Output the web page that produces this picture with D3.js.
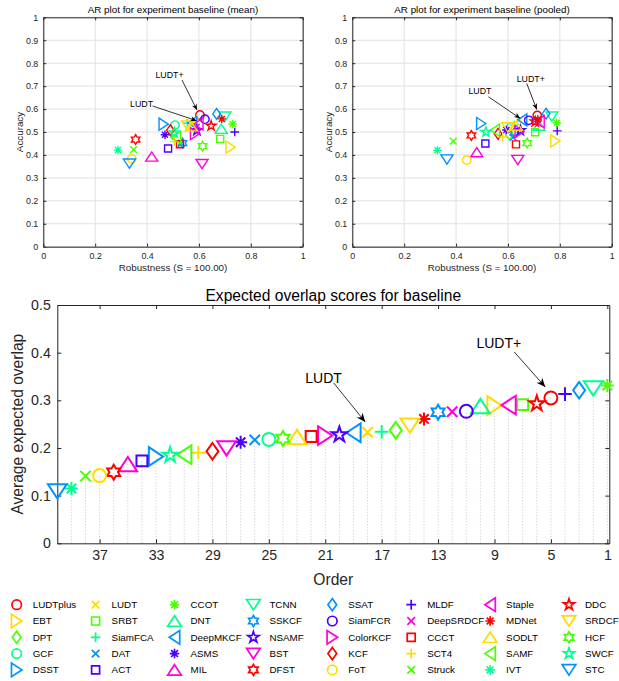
<!DOCTYPE html>
<html>
<head>
<meta charset="utf-8">
<script src="https://cdn.jsdelivr.net/npm/d3@7"></script>
<style>
body { margin: 0; background: #fff; }
svg text { font-family: "Liberation Sans", Arial, Helvetica, sans-serif; fill: #262626; }
</style>
</head>
<body>
<div id="chart"></div>
<script>

// ---- data ----
var trackers = ['LUDTplus','EBT','DPT','GCF','DSST','LUDT','SRBT','SiamFCA','DAT','ACT',
                'CCOT','DNT','DeepMKCF','ASMS','MIL','TCNN','SSKCF','NSAMF','BST','DFST',
                'SSAT','SiamFCR','ColorKCF','KCF','FoT','MLDF','DeepSRDCF','CCCT','SCT4','Struck',
                'Staple','MDNet','SODLT','SAMF','IVT','DDC','SRDCF','HCF','SWCF','STC'];

var eaoScores = [0.305,0.289,0.237,0.218,0.182,0.233,0.291,0.234,0.217,0.173,
                 0.331,0.288,0.232,0.212,0.166,0.325,0.275,0.228,0.199,0.149,
                 0.321,0.277,0.226,0.193,0.142,0.313,0.276,0.224,0.190,0.141,
                 0.290,0.261,0.223,0.186,0.115,0.293,0.247,0.220,0.185,0.109];

var meanRobustness = [0.604,0.722,0.500,0.508,0.464,0.585,0.682,0.555,0.532,0.481,
                      0.730,0.686,0.574,0.469,0.418,0.700,0.537,0.592,0.612,0.356,
                      0.668,0.623,0.585,0.490,0.341,0.738,0.590,0.527,0.505,0.348,
                      0.598,0.688,0.570,0.512,0.288,0.647,0.556,0.614,0.505,0.332];
var meanAccuracy = [0.574,0.434,0.490,0.530,0.534,0.545,0.470,0.538,0.450,0.428,
                    0.535,0.514,0.540,0.488,0.393,0.567,0.452,0.507,0.360,0.467,
                    0.579,0.556,0.493,0.508,0.383,0.500,0.520,0.447,0.458,0.423,
                    0.535,0.557,0.525,0.475,0.421,0.527,0.528,0.438,0.498,0.362];

var pooledRobustness = [0.713,0.783,0.605,0.612,0.497,0.645,0.705,0.625,0.620,0.513,
                        0.788,0.720,0.655,0.594,0.480,0.769,0.625,0.648,0.638,0.459,
                        0.747,0.680,0.645,0.562,0.441,0.790,0.718,0.631,0.580,0.389,
                        0.722,0.715,0.632,0.550,0.328,0.705,0.600,0.674,0.515,0.365];
var pooledAccuracy = [0.572,0.461,0.490,0.522,0.537,0.553,0.499,0.530,0.476,0.450,
                      0.540,0.528,0.553,0.509,0.412,0.567,0.498,0.507,0.378,0.485,
                      0.580,0.551,0.502,0.492,0.378,0.505,0.537,0.446,0.478,0.460,
                      0.545,0.556,0.528,0.508,0.420,0.545,0.520,0.452,0.500,0.380];

var arTicksX = [0, 0.2, 0.4, 0.6, 0.8, 1];
var arTicksY = [0, 0.1, 0.2, 0.3, 0.4, 0.5, 0.6, 0.7, 0.8, 0.9, 1];
var eaoTicksY = [0, 0.1, 0.2, 0.3, 0.4, 0.5];
var orderTicks = [37, 33, 29, 25, 21, 17, 13, 9, 5, 1];

// ---- styles ----
var hues = ['#ff0000','#ffdb00','#49ff00','#00ff92','#0092ff','#4900ff','#ff00db'];
var trackerMarkers = ['o','>','d','o','>','x','s','+','x','s',
                      '*','^','<','*','^','v','h','p','v','h',
                      'd','o','>','d','o','+','x','s','+','x',
                      '<','*','^','<','*','p','v','h','p','v'];
var trackerColors = trackers.map(function(t, i) { return hues[(Math.floor(i / 5) + i % 5) % 7]; });

var W = 619, H = 681;
var svg = d3.select('#chart').append('svg').attr('width', W).attr('height', H);

function fmt1(d) { return String(+d.toFixed(1)); }

function markerPath(type, m) {
	var p = d3.path(), a, w, h, i, ang, rad, n, outer, inner;
	switch (type) {
		case 'o': p.moveTo(m / 2, 0); p.arc(0, 0, m / 2, 0, 2 * Math.PI); break;
		case 's': a = m * 0.42; p.rect(-a, -a, 2 * a, 2 * a); break;
		case 'd': w = m * 0.46; h = m * 0.64;
			p.moveTo(0, -h); p.lineTo(w, 0); p.lineTo(0, h); p.lineTo(-w, 0); p.closePath(); break;
		case '^': w = m * 0.72; h = m * 0.55;
			p.moveTo(0, -h); p.lineTo(w, h); p.lineTo(-w, h); p.closePath(); break;
		case 'v': w = m * 0.72; h = m * 0.55;
			p.moveTo(0, h); p.lineTo(w, -h); p.lineTo(-w, -h); p.closePath(); break;
		case '>': w = m * 0.72; h = m * 0.55;
			p.moveTo(h, 0); p.lineTo(-h, -w); p.lineTo(-h, w); p.closePath(); break;
		case '<': w = m * 0.72; h = m * 0.55;
			p.moveTo(-h, 0); p.lineTo(h, -w); p.lineTo(h, w); p.closePath(); break;
		case 'x': a = m * 0.4;
			p.moveTo(-a, -a); p.lineTo(a, a); p.moveTo(a, -a); p.lineTo(-a, a); break;
		case '+': a = m * 0.52;
			p.moveTo(-a, 0); p.lineTo(a, 0); p.moveTo(0, -a); p.lineTo(0, a); break;
		case '*': a = m * 0.5; w = a * 0.72;
			p.moveTo(-a, 0); p.lineTo(a, 0); p.moveTo(0, -a); p.lineTo(0, a);
			p.moveTo(-w, -w); p.lineTo(w, w); p.moveTo(w, -w); p.lineTo(-w, w); break;
		case 'p': case 'h':
			n = type == 'p' ? 5 : 6;
			outer = type == 'p' ? m * 0.62 : m * 0.58;
			inner = type == 'p' ? outer * 0.382 : outer / Math.sqrt(3);
			for (i = 0; i < 2 * n; i++) {
				ang = -Math.PI / 2 + i * Math.PI / n;
				rad = i % 2 == 0 ? outer : inner;
				if (i == 0) { p.moveTo(rad * Math.cos(ang), rad * Math.sin(ang)); }
				else { p.lineTo(rad * Math.cos(ang), rad * Math.sin(ang)); }
			}
			p.closePath(); break;
	}
	return p.toString();
}

function appendMarker(g, type, x, y, m, color, sw) {
	g.append('path')
		.attr('d', markerPath(type, m))
		.attr('transform', 'translate(' + x + ',' + y + ')')
		.style('fill', 'none')
		.style('stroke', color)
		.style('stroke-width', sw)
		.style('stroke-linejoin', 'miter');
}

function appendText(g, x, y, size, anchor, txt, rotate) {
	var t = g.append('text')
		.attr('x', x)
		.attr('y', y)
		.attr('dy', '0.35em')
		.style('font-size', size + 'px')
		.attr('text-anchor', anchor)
		.text(txt);
	if (rotate) { t.attr('transform', 'rotate(-90,' + x + ',' + y + ')'); }
	return t;
}

function appendArrow(g, x1, y1, x2, y2, headLen, headW) {
	g.append('line')
		.attr('x1', x1).attr('y1', y1)
		.attr('x2', x2).attr('y2', y2)
		.style('stroke', 'black')
		.style('stroke-width', 0.8);
	var ang = Math.atan2(y2 - y1, x2 - x1) * 180 / Math.PI;
	g.append('path')
		.attr('d', 'M0,0L' + (-headLen) + ',' + (-headW) + 'L' + (-headLen * 0.7) + ',0L' + (-headLen) + ',' + headW + 'Z')
		.attr('transform', 'translate(' + x2 + ',' + y2 + ') rotate(' + ang + ')')
		.style('fill', 'black');
}

function styleAxis(sel, size) {
	sel.selectAll('path.domain').style('stroke', '#262626');
	sel.selectAll('.tick line').style('stroke', '#262626');
	sel.selectAll('.tick text').style('font-size', size + 'px').style('fill', '#262626')
		.style('font-family', '"Liberation Sans", Arial, sans-serif');
}

// ---- AR plots ----
function drawAR(x0, x1, title, rob, acc, notes) {
	var y0 = 17.3, y1 = 246.7;
	var x = d3.scaleLinear().domain([0, 1]).range([x0, x1]);
	var y = d3.scaleLinear().domain([0, 1]).range([y1, y0]);
	var g = svg.append('g');

	g.selectAll('.gx').data(arTicksX).enter().append('line')
		.attr('x1', function(d) { return x(d); }).attr('x2', function(d) { return x(d); })
		.attr('y1', y0).attr('y2', y1)
		.style('stroke', '#e0e0e0').style('stroke-width', 1);
	g.selectAll('.gy').data(arTicksY).enter().append('line')
		.attr('y1', function(d) { return y(d); }).attr('y2', function(d) { return y(d); })
		.attr('x1', x0).attr('x2', x1)
		.style('stroke', '#e0e0e0').style('stroke-width', 1);

	var fs = 8.9;
	styleAxis(g.append('g').attr('transform', 'translate(0,' + y1 + ')')
		.call(d3.axisBottom(x).tickValues(arTicksX).tickFormat(fmt1).tickSizeInner(-3).tickSizeOuter(0).tickPadding(6)), fs);
	styleAxis(g.append('g').attr('transform', 'translate(' + x0 + ',0)')
		.call(d3.axisLeft(y).tickValues(arTicksY).tickFormat(fmt1).tickSizeInner(-3).tickSizeOuter(0).tickPadding(5)), fs);
	styleAxis(g.append('g').attr('transform', 'translate(0,' + y0 + ')')
		.call(d3.axisTop(x).tickValues(arTicksX).tickFormat('').tickSizeInner(-3).tickSizeOuter(0)), fs);
	styleAxis(g.append('g').attr('transform', 'translate(' + x1 + ',0)')
		.call(d3.axisRight(y).tickValues(arTicksY).tickFormat('').tickSizeInner(-3).tickSizeOuter(0)), fs);

	appendText(g, (x0 + x1) / 2, 10, 9.8, 'middle', title).style('fill', '#000');
	appendText(g, (x0 + x1) / 2, 267.7, 9.8, 'middle', 'Robustness (S = 100.00)');
	appendText(g, x0 - 23.5, (y0 + y1) / 2, 9.8, 'middle', 'Accuracy', true);

	trackers.forEach(function(t, i) {
		appendMarker(g, trackerMarkers[i], x(rob[i]), y(acc[i]), 8.4, trackerColors[i], 1.4);
	});

	notes.forEach(function(n) {
		var i = trackers.indexOf(n.tracker);
		var mx = x(rob[i]), my = y(acc[i]);
		var tx = mx + n.tip[0], ty = my + n.tip[1];
		appendArrow(g, tx + n.tail[0], ty + n.tail[1], tx, ty, 6, 2.6);
		appendText(g, tx + n.tail[0] + n.text[0], ty + n.tail[1] + n.text[1], 8.8, n.anchor, n.label).style('fill', '#000');
	});
}

drawAR(43.3, 302.7, 'AR plot for experiment baseline (mean)', meanRobustness, meanAccuracy, [
	{ tracker: 'LUDTplus', label: 'LUDT+', tip: [-3, -5], tail: [-15, -30], text: [-12.5, -5], anchor: 'middle' },
	{ tracker: 'LUDT', label: 'LUDT', tip: [1.5, -1], tail: [-44, -14.7], text: [0.5, -2], anchor: 'end' }
]);
drawAR(352.3, 611.7, 'AR plot for experiment baseline (pooled)', pooledRobustness, pooledAccuracy, [
	{ tracker: 'LUDTplus', label: 'LUDT+', tip: [-0.5, -6], tail: [-10, -26], text: [4, -5], anchor: 'middle' },
	{ tracker: 'LUDT', label: 'LUDT', tip: [0.5, -1.5], tail: [-31.7, -21.6], text: [-8.5, -6], anchor: 'middle' }
]);

// ---- Expected overlap plot ----
(function() {
	var x0 = 57.3, x1 = 609.3, y0 = 305, y1 = 543.3;
	var x = d3.scaleLinear().domain([40, 0.86]).range([x0, x1]);
	var y = d3.scaleLinear().domain([0, 0.5]).range([y1, y0]);
	var g = svg.append('g');

	// rank trackers by score
	var order = d3.range(trackers.length).sort(function(a, b) { return eaoScores[b] - eaoScores[a]; });
	var rank = [];
	order.forEach(function(ti, k) { rank[ti] = k + 1; });

	g.selectAll('.drop').data(trackers).enter().append('line')
		.attr('x1', function(d, i) { return x(rank[i]); })
		.attr('x2', function(d, i) { return x(rank[i]); })
		.attr('y1', y1)
		.attr('y2', function(d, i) { return y(eaoScores[i]); })
		.style('stroke', '#c4c4c4')
		.style('stroke-width', 1)
		.style('stroke-dasharray', '1,2');

	var fs = 14.2;
	styleAxis(g.append('g').attr('transform', 'translate(0,' + y1 + ')')
		.call(d3.axisBottom(x).tickValues(orderTicks).tickFormat(d3.format('d')).tickSizeInner(-4).tickSizeOuter(0).tickPadding(7)), fs);
	styleAxis(g.append('g').attr('transform', 'translate(' + x0 + ',0)')
		.call(d3.axisLeft(y).tickValues(eaoTicksY).tickFormat(fmt1).tickSizeInner(-4).tickSizeOuter(0).tickPadding(6.5)), fs);
	styleAxis(g.append('g').attr('transform', 'translate(0,' + y0 + ')')
		.call(d3.axisTop(x).tickValues(orderTicks).tickFormat('').tickSizeInner(-4).tickSizeOuter(0)), fs);
	styleAxis(g.append('g').attr('transform', 'translate(' + x1 + ',0)')
		.call(d3.axisRight(y).tickValues(eaoTicksY).tickFormat('').tickSizeInner(-4).tickSizeOuter(0)), fs);

	appendText(g, (x0 + x1) / 2, 296, 15.6, 'middle', 'Expected overlap scores for baseline').style('fill', '#000');
	appendText(g, (x0 + x1) / 2, 580, 15.6, 'middle', 'Order');
	appendText(g, 18, (y0 + y1) / 2, 15.6, 'middle', 'Average expected overlap', true);

	trackers.forEach(function(t, i) {
		appendMarker(g, trackerMarkers[i], x(rank[i]), y(eaoScores[i]), 13, trackerColors[i], 2);
	});

	[
		{ tracker: 'LUDTplus', label: 'LUDT+', tip: [-5.6, -10.9], tail: [-31, -35], text: [-15.5, -9] },
		{ tracker: 'LUDT', label: 'LUDT', tip: [-2.3, -10.2], tail: [-31.7, -39.3], text: [-10, -4.7] }
	].forEach(function(n) {
		var i = trackers.indexOf(n.tracker);
		var tx = x(rank[i]) + n.tip[0], ty = y(eaoScores[i]) + n.tip[1];
		appendArrow(g, tx + n.tail[0], ty + n.tail[1], tx, ty, 9, 3.8);
		appendText(g, tx + n.tail[0] + n.text[0], ty + n.tail[1] + n.text[1], 14, 'middle', n.label).style('fill', '#000');
	});
})();

// ---- legend ----
var legend = svg.append('g');
trackers.forEach(function(t, i) {
	var col = Math.floor(i / 5), row = i % 5;
	var mx = 16.7 + col * 78.9, my = 604.7 + row * 16.3;
	appendMarker(legend, trackerMarkers[i], mx, my, 9.5, trackerColors[i], 1.7);
	appendText(legend, mx + 16, my, 9.8, 'start', t).style('fill', '#000');
});

</script>
</body>
</html>
